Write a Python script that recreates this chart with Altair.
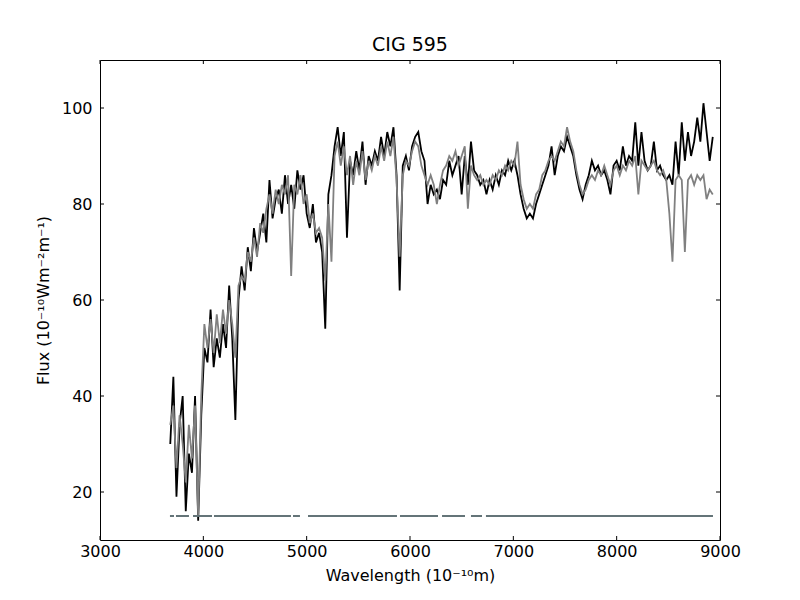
import altair as alt
import pandas as pd

# wavelength grid (Angstrom), 30 A sampling
wl_start = 3680
wl_step = 30

flux_obs = [
    30, 44, 19, 34, 40, 16, 28, 24, 40, 14,
    36, 50, 47, 58, 46, 52, 48, 55, 50, 63,
    52, 35, 60, 67, 62, 71, 66, 75, 70, 74,
    78, 72, 85, 77, 81, 83, 78, 86, 80, 84,
    79, 87, 83, 86, 78, 75, 80, 72, 74, 70,
    54, 82, 86, 92, 96, 90, 95, 73, 89, 86,
    91, 87, 93, 84, 90, 88, 91, 89, 94, 90,
    95, 92, 96, 86, 62, 88, 90, 87, 92, 94,
    95, 91, 89, 80, 84, 82, 83, 81, 85, 84,
    89, 86, 88, 90, 82, 90, 84, 93, 87, 86,
    84, 85, 82, 85, 83, 86, 84, 87, 86, 89,
    87, 89, 86, 82, 79, 77, 78, 77, 80, 82,
    84, 86, 88, 92, 86, 90, 92, 91, 94, 92,
    90, 86, 83, 81, 84, 86, 89, 87, 88, 86,
    87, 85, 82, 88, 89, 87, 92, 88, 90, 89,
    97, 88, 95, 89, 87, 88, 93, 87, 88, 86,
    85, 86, 84, 93, 86, 97, 89, 95, 90, 93,
    98, 93, 101, 95, 89, 94,
]

flux_model = [
    34, 38, 25, 36, 30, 22, 34, 27, 38, 15,
    40, 55, 50, 56, 49, 57, 51, 58, 53, 60,
    55, 48, 63, 65, 64, 70, 68, 73, 69, 76,
    74, 79, 82, 78, 83, 80, 84, 82, 86, 65,
    84, 82, 86, 80, 82, 76, 78, 74, 75, 73,
    64, 80, 68, 90, 93, 88, 92, 86, 90, 84,
    89, 86, 91, 85, 89, 87, 90, 88, 92, 89,
    93, 90, 94, 85, 69, 86, 89, 88, 91, 93,
    92, 88, 86, 84, 86, 84, 80, 84, 87, 88,
    90, 89, 91, 88, 90, 92, 79, 88, 86, 85,
    86, 84, 85, 84, 86, 85, 87, 86, 88, 87,
    89, 88, 93, 84, 81, 79, 80, 79, 82, 83,
    86, 87, 89, 90, 89, 91, 93, 92, 96, 93,
    91, 87, 84, 82, 83, 85, 86, 85, 87, 86,
    88, 86, 84, 87, 88, 86, 88, 87, 89, 88,
    90, 82, 89, 88, 87, 88, 89, 87, 86, 87,
    85, 78, 68, 85, 86, 85, 70, 85, 86, 84,
    86, 85, 86, 81, 83, 82,
]

# good-pixel mask segments drawn at flux = 15
mask_start = [3677, 3735, 3900, 4103, 4868, 5013, 5903, 6310, 6590, 6735]
mask_end = [3716, 3861, 4084, 4848, 4935, 5874, 6271, 6532, 6697, 8932]
mask_level = 15

x_ticks = [3000, 4000, 5000, 6000, 7000, 8000, 9000]
y_ticks = [20, 40, 60, 80, 100]

wl = [wl_start + wl_step * i for i in range(len(flux_obs))]
df_obs = pd.DataFrame({"wl": wl, "flux": flux_obs})
df_mod = pd.DataFrame({"wl": wl, "flux": flux_model})
df_mask = pd.DataFrame({"s": mask_start, "e": mask_end, "y": [mask_level] * len(mask_start)})
df_xt = pd.DataFrame({"t": x_ticks})
df_yt = pd.DataFrame({"t": y_ticks})

W, H = 620, 480
FONT = "DejaVu Sans"

xscale = alt.Scale(domain=[3000, 9000], nice=False, zero=False)
yscale = alt.Scale(domain=[10, 110], nice=False, zero=False)

xaxis = alt.Axis(values=x_ticks, format="d", tickSize=0, domain=False, grid=False,
                 labelFlush=False, labelOverlap=False,
                 labelFontSize=16, labelFont=FONT, labelColor="black", labelPadding=3,
                 title="Wavelength (10⁻¹⁰m)", titleFont=FONT, titleFontSize=16,
                 titleFontWeight="normal", titleColor="black", titlePadding=8)
yaxis = alt.Axis(values=y_ticks, format="d", tickSize=0, domain=False, grid=False,
                 labelFlush=False, labelOverlap=False,
                 labelFontSize=16, labelFont=FONT, labelColor="black", labelPadding=8,
                 title="Flux (10⁻¹⁰Wm⁻²m⁻¹)", titleFont=FONT, titleFontSize=16,
                 titleFontWeight="normal", titleColor="black", titlePadding=10)

obs = alt.Chart(df_obs).mark_line(color="black", strokeWidth=1.8, strokeJoin="miter").encode(
    x=alt.X("wl:Q", scale=xscale, axis=xaxis),
    y=alt.Y("flux:Q", scale=yscale, axis=yaxis),
)
mod = alt.Chart(df_mod).mark_line(color="#808080", strokeWidth=1.8, strokeJoin="miter").encode(
    x=alt.X("wl:Q", scale=xscale),
    y=alt.Y("flux:Q", scale=yscale),
)
mask = alt.Chart(df_mask).mark_rule(color="#647478", strokeWidth=2).encode(
    x=alt.X("s:Q", scale=xscale),
    x2="e:Q",
    y=alt.Y("y:Q", scale=yscale),
)

tick_len = 4
xt_bottom = alt.Chart(df_xt).mark_rule(color="black", strokeWidth=1).encode(
    x=alt.X("t:Q", scale=xscale), y=alt.value(H), y2=alt.value(H - tick_len))
xt_top = alt.Chart(df_xt).mark_rule(color="black", strokeWidth=1).encode(
    x=alt.X("t:Q", scale=xscale), y=alt.value(0), y2=alt.value(tick_len))
yt_left = alt.Chart(df_yt).mark_rule(color="black", strokeWidth=1).encode(
    y=alt.Y("t:Q", scale=yscale), x=alt.value(0), x2=alt.value(tick_len))
yt_right = alt.Chart(df_yt).mark_rule(color="black", strokeWidth=1).encode(
    y=alt.Y("t:Q", scale=yscale), x=alt.value(W), x2=alt.value(W - tick_len))

chart = alt.layer(obs, mod, mask, xt_bottom, xt_top, yt_left, yt_right).properties(
    width=W, height=H,
    title=alt.TitleParams("CIG 595", font=FONT, fontSize=19, fontWeight="normal",
                          color="black", anchor="middle", offset=5),
    autosize=alt.AutoSizeParams(type="none"),
    padding={"left": 92, "top": 52, "right": 72, "bottom": 52},
).configure(
    background="white",
    view=alt.ViewConfig(stroke="black", strokeWidth=1),
)

chart.save("out.html", embed_options={"renderer": "svg", "actions": False})
